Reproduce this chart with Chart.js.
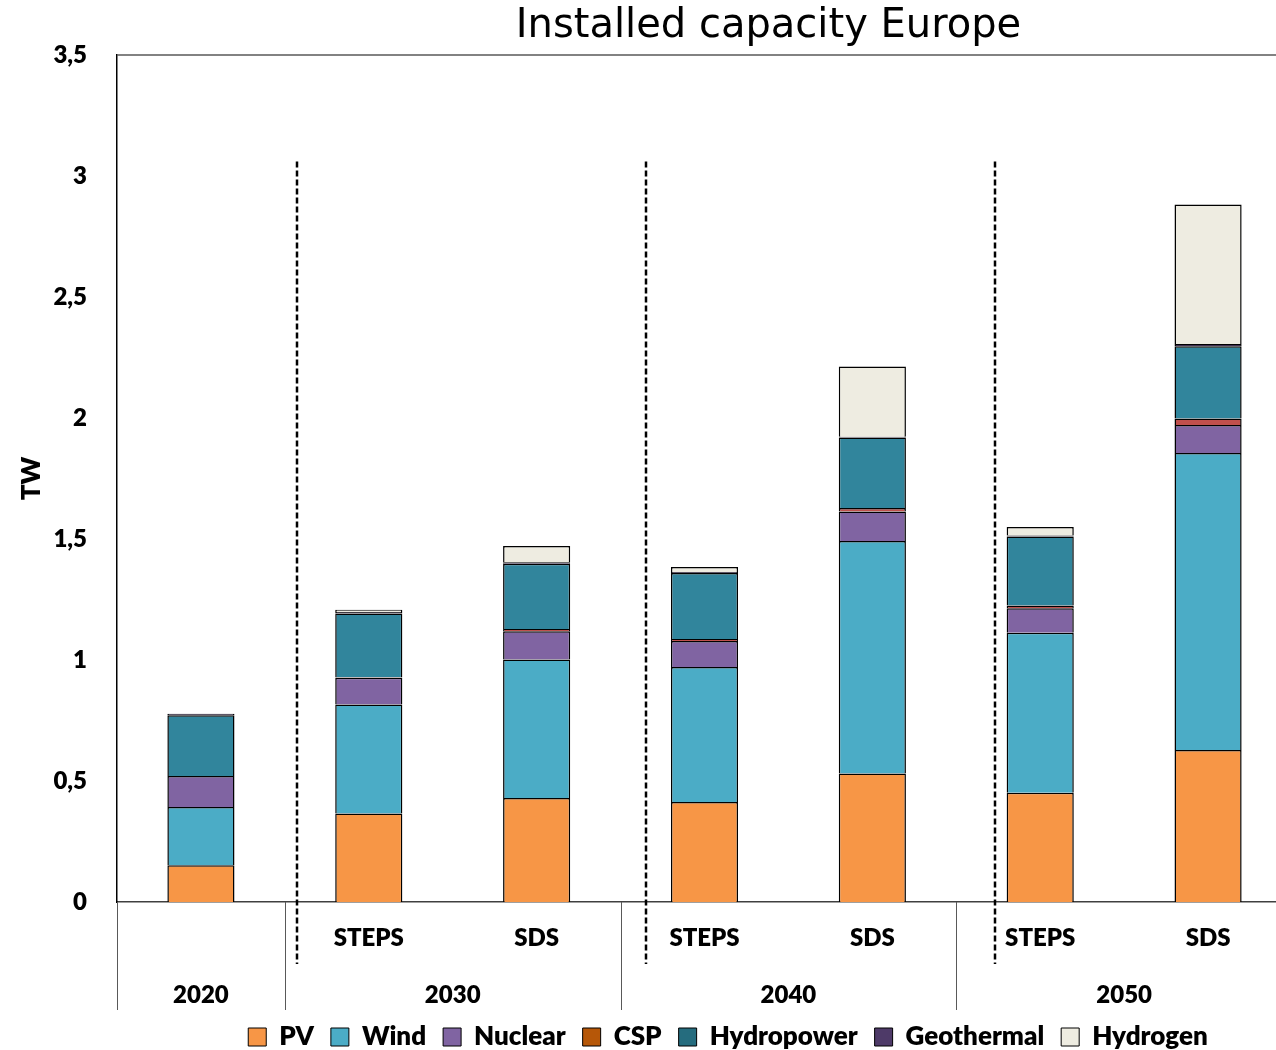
<!DOCTYPE html>
<html>
<head>
<meta charset="utf-8">
<title>Installed capacity Europe</title>
<script src="https://cdn.jsdelivr.net/npm/chart.js@4.4.1/dist/chart.umd.min.js"></script>
<style>
    html, body { margin: 0; padding: 0; background: #fff; overflow: hidden; }
    #wrap { width: 1456px; height: 1060px; }
</style>
</head>
<body>
<div id="wrap"><canvas id="capacityChart" width="1456" height="1060"></canvas></div>
<script>
// Scenario under each bar, and the year group each bar belongs to
const scenarios = ['', 'STEPS', 'SDS', 'STEPS', 'SDS', 'STEPS', 'SDS'];
const years = ['2020', '2030', '2040', '2050'];
const yearSpans = [[0, 0], [1, 2], [3, 4], [5, 6]]; // first/last bar index per year

// Installed capacity per technology, TW
const pv         = [0.152, 0.366, 0.430, 0.413, 0.531, 0.451, 0.628];
const wind       = [0.241, 0.450, 0.572, 0.558, 0.961, 0.662, 1.227];
const nuclear    = [0.128, 0.111, 0.117, 0.107, 0.122, 0.101, 0.116];
const csp        = [null,  0.002, 0.009, 0.009, 0.014, 0.011, 0.027];
const hydropower = [0.251, 0.263, 0.270, 0.273, 0.291, 0.285, 0.299];
const geothermal = [0.006, 0.006, 0.006, 0.004, 0.004, 0.004, 0.009];
const hydrogen   = [null,  0.010, 0.067, 0.020, 0.290, 0.036, 0.576];

const yTicks = [0, 0.5, 1, 1.5, 2, 2.5, 3, 3.5];

const FONT = 'Lato, "Open Sans", sans-serif';
const WEIGHT = '800';

// fill for the bars, and the slightly different swatch used in the legend
const series = [
    { label: 'PV',         data: pv,         color: '#F79646', swatch: '#F79646' },
    { label: 'Wind',       data: wind,       color: '#4BACC6', swatch: '#4BACC6' },
    { label: 'Nuclear',    data: nuclear,    color: '#8064A2', swatch: '#8064A2' },
    { label: 'CSP',        data: csp,        color: '#C0504D', swatch: '#B65708' },
    { label: 'Hydropower', data: hydropower, color: '#31859C', swatch: '#256C7E' },
    { label: 'Geothermal', data: geothermal, color: '#403152', swatch: '#4E3A68' },
    { label: 'Hydrogen',   data: hydrogen,   color: '#EEECE1', swatch: '#EEECE1' }
];

// scenario dividers, as fractional bar index
const dividerAt = [0.57, 2.65, 4.73];

// Title, frame, dashed dividers and the year row under the axis
const decorations = {
    id: 'decorations',
    afterDraw(chart) {
        const { ctx, chartArea, scales: { x, y } } = chart;
        const step = x.getPixelForValue(1) - x.getPixelForValue(0);
        ctx.save();

        // top frame line
        ctx.strokeStyle = '#595959';
        ctx.lineWidth = 1.5;
        ctx.beginPath();
        ctx.moveTo(chartArea.left, chartArea.top);
        ctx.lineTo(chartArea.right, chartArea.top);
        ctx.stroke();

        // dashed scenario dividers
        ctx.strokeStyle = '#000';
        ctx.lineWidth = 2.5;
        ctx.setLineDash([6, 3]);
        dividerAt.forEach(pos => {
            const i = Math.floor(pos);
            const px = Math.round(x.getPixelForValue(i) + (pos - i) * step);
            ctx.beginPath();
            ctx.moveTo(px, y.getPixelForValue(3.06));
            ctx.lineTo(px, chartArea.bottom + 62);
            ctx.stroke();
        });
        ctx.setLineDash([]);

        // year group separators and labels
        ctx.strokeStyle = '#595959';
        ctx.lineWidth = 1;
        ctx.fillStyle = '#000';
        ctx.font = WEIGHT + ' 24px ' + FONT;
        ctx.textAlign = 'center';
        ctx.textBaseline = 'middle';
        years.forEach((yr, k) => {
            const [a, b] = yearSpans[k];
            const left = Math.round(x.getPixelForValue(a) - step / 2) + 0.5;
            ctx.beginPath();
            ctx.moveTo(left, chartArea.bottom);
            ctx.lineTo(left, chartArea.bottom + 108);
            ctx.stroke();
            const cx = (x.getPixelForValue(a) + x.getPixelForValue(b)) / 2;
            ctx.fillText(yr, cx, chartArea.bottom + 93);
        });

        // chart title
        ctx.font = '40px "DejaVu Sans", Verdana, sans-serif';
        ctx.textBaseline = 'alphabetic';
        ctx.fillText('Installed capacity Europe', (chartArea.left + chartArea.right) / 2 + 64, 37);
        ctx.restore();
    }
};

new Chart(document.getElementById('capacityChart'), {
    type: 'bar',
    data: {
        labels: scenarios,
        datasets: series.map(s => ({
            label: s.label,
            data: s.data,
            backgroundColor: s.color,
            borderColor: '#000',
            borderWidth: 1.5,
            barPercentage: 0.4,
            categoryPercentage: 1
        }))
    },
    options: {
        responsive: false,
        animation: false,
        layout: { padding: { top: 55, left: 0, right: 0, bottom: 0 } },
        plugins: {
            title: { display: false },
            tooltip: { enabled: false },
            legend: {
                position: 'bottom',
                labels: {
                    color: '#000',
                    font: { family: FONT, size: 26, weight: WEIGHT },
                    boxWidth: 18,
                    boxHeight: 18,
                    padding: 17,
                    generateLabels(chart) {
                        return chart.data.datasets.map((ds, i) => ({
                            text: ds.label,
                            fillStyle: series[i].swatch,
                            strokeStyle: '#000',
                            lineWidth: 1,
                            hidden: false,
                            datasetIndex: i
                        }));
                    }
                }
            }
        },
        scales: {
            x: {
                stacked: true,
                grid: { display: false, drawTicks: false },
                border: { display: true, color: '#404040', width: 1.5 },
                ticks: {
                    color: '#000',
                    font: { family: FONT, size: 24, weight: WEIGHT },
                    padding: 22,
                    maxRotation: 0,
                    autoSkip: false
                },
                afterFit: s => { s.height = 105; }
            },
            y: {
                stacked: true,
                min: 0,
                max: 3.5,
                afterBuildTicks: s => { s.ticks = yTicks.map(v => ({ value: v })); },
                grid: { display: false, drawTicks: false },
                border: { display: true, color: '#000', width: 1.5 },
                ticks: {
                    color: '#000',
                    font: { family: FONT, size: 24, weight: WEIGHT },
                    padding: 30,
                    callback: v => String(v).replace('.', ',')
                },
                title: {
                    display: true,
                    text: 'TW',
                    color: '#000',
                    font: { family: FONT, size: 26, weight: WEIGHT },
                    padding: { top: 16, bottom: 0 }
                },
                afterFit: s => { s.width = 117; }
            },
            // empty right axis: keeps the plot running past the page edge
            yRight: {
                type: 'linear',
                position: 'right',
                display: true,
                grid: { display: false, drawTicks: false },
                border: { display: false },
                ticks: { display: false },
                afterFit: s => { s.width = 164; }
            }
        }
    },
    plugins: [decorations]
});
</script>
</body>
</html>
